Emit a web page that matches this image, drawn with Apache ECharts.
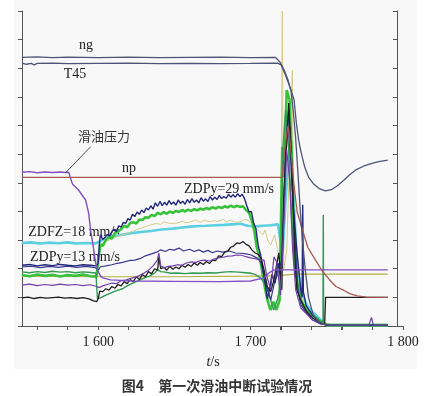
<!DOCTYPE html>
<html>
<head>
<meta charset="utf-8">
<script src="https://cdn.jsdelivr.net/npm/echarts@6/dist/echarts.min.js"></script>
<style>
  html, body { margin: 0; padding: 0; background: #fff; }
  #main { width: 428px; height: 396px; }
</style>
</head>
<body>
<div id="main"></div>
<script>
// tick positions on t axis
const xTicks = [1560, 1580, 1600, 1620, 1640, 1660, 1680, 1700, 1720, 1740, 1760, 1780, 1800];
const xLabels = [1600, 1700, 1800];

// [t, value] in plot units (11 divisions, no y labels)
const ngData = [[1550,9.38],[1560,9.4],[1570,9.37],[1580,9.39],[1590,9.38],[1600,9.37],[1620,9.39],[1640,9.37],[1660,9.38],[1680,9.39],[1700,9.37],[1716.4,9.38],[1719.5,9.2],[1722,8.94],[1724.5,8.6],[1726.5,8.2],[1728,7.5],[1729.5,6.6],[1731,5.4],[1732.5,4.1],[1734,3.0],[1736,1.9],[1738,1.0],[1741,0.4],[1745,0.12],[1750,0.05],[1790,0.05]];

const t45Data = [[1550,9.18],[1553,9.14],[1556,9.17],[1558,9.12],[1560,9.17],[1570,9.18],[1580,9.16],[1600,9.17],[1620,9.18],[1640,9.16],[1660,9.17],[1680,9.16],[1700,9.17],[1717.8,9.18],[1720,9.12],[1723,8.75],[1726.3,8.27],[1727.5,8.22],[1728.5,7.9],[1730,7.1],[1731.5,6.5],[1733,6.1],[1735.5,5.55],[1738,5.2],[1741,4.98],[1745,4.8],[1749,4.72],[1753,4.76],[1757,4.9],[1761,5.08],[1765,5.28],[1769,5.45],[1774,5.58],[1779,5.67],[1784,5.74],[1790,5.79]];

const npData = [[1550,5.19],[1600,5.19],[1650,5.19],[1700,5.19],[1720.5,5.19],[1722.5,6.2],[1724.5,7.0],[1726,6.4],[1728.3,5.0],[1730.5,4.0],[1733.5,3.45],[1737.5,2.75],[1742,2.35],[1747,1.92],[1752,1.6],[1756,1.38],[1761,1.25],[1765,1.13],[1770,1.05],[1776,1.01],[1790,1.0]];

const oilData = [[1550,5.37],[1555,5.39],[1560,5.35],[1565,5.38],[1570,5.36],[1575,5.38],[1579,5.36],[1580.7,5.37],[1581.8,5.17],[1583.2,4.95],[1587.1,4.75],[1591.7,4.4],[1593.7,3.95],[1595,3.35],[1596.7,2.8],[1598.3,2.2],[1600,1.9],[1601.5,1.75],[1603,1.68],[1608.1,1.61],[1623,1.57],[1650,1.56],[1680,1.55],[1700,1.57],[1708.8,1.68],[1712,1.85],[1715.3,1.96],[1730,1.96],[1750,1.96],[1790,1.96]];

const zdpyData = [[1550,2.12],[1555,2.15],[1560,2.1],[1565,2.14],[1570,2.11],[1575,2.15],[1580,2.12],[1585,2.1],[1590,2.14],[1595,2.12],[1599,2.1],[1600,2.2],[1600.8,2.9],[1601.5,3.18],[1603,3.02],[1604.5,3.1],[1606,3.2],[1607.5,3.14],[1609,3.3],[1610.5,3.38],[1612,3.3],[1613.5,3.5],[1615,3.45],[1616.5,3.62],[1618,3.58],[1619.5,3.75],[1621,3.7],[1622.5,3.9],[1624,3.82],[1625.5,3.98],[1627,3.9],[1628.5,4.05],[1630,3.96],[1631.5,4.12],[1633,4.05],[1634.5,4.2],[1636,4.08],[1637.5,4.3],[1639,4.18],[1640.5,4.35],[1642,4.2],[1643.5,4.32],[1645,4.22],[1646.5,4.38],[1648,4.25],[1649.5,4.33],[1651,4.22],[1652.5,4.4],[1654,4.28],[1655.5,4.36],[1657,4.25],[1658.5,4.42],[1660,4.3],[1661.5,4.45],[1663,4.32],[1664.5,4.4],[1666,4.3],[1667.5,4.48],[1669,4.36],[1670.5,4.44],[1672,4.35],[1673.5,4.52],[1675,4.4],[1676.5,4.5],[1678,4.42],[1679.5,4.56],[1681,4.45],[1682.5,4.52],[1684,4.46],[1685.5,4.6],[1687,4.5],[1688.5,4.58],[1690,4.5],[1691.5,4.62],[1693,4.52],[1694.5,4.6],[1696,4.45],[1697.5,4.2],[1699,3.98],[1700.5,4.0],[1702,3.6],[1703.5,3.4],[1705,2.8],[1706.5,2.5],[1708,2.0],[1709.5,1.5],[1711,0.95],[1712.5,1.3],[1714,1.8],[1716,1.5],[1718,2.2],[1720,1.6],[1721.5,3.5],[1723,6.0],[1724.9,7.5],[1726.5,6.2],[1728,4.2],[1730.3,2.65],[1732.9,1.26],[1733.8,1.0],[1734.2,4.23],[1734.6,1.2],[1736.5,0.7],[1740.7,0.38],[1744.6,0.14],[1749.3,0.03],[1790,0.03]];

const navy2Data = [[1550,2.06],[1556,2.09],[1562,2.04],[1568,2.08],[1574,2.05],[1580,2.09],[1586,2.05],[1592,2.08],[1598,2.04],[1600,1.95],[1601.5,2.07],[1605,2.1],[1609,2.14],[1612.5,2.19],[1616,2.22],[1620,2.28],[1624,2.3],[1627.8,2.36],[1631,2.45],[1635,2.52],[1638.8,2.59],[1641,2.66],[1644,2.6],[1647,2.68],[1649.7,2.65],[1653,2.72],[1656,2.62],[1660,2.68],[1663,2.6],[1666,2.66],[1669,2.58],[1672,2.64],[1675,2.56],[1678,2.62],[1682,2.58],[1686,2.62],[1690,2.55],[1693.5,2.54],[1697,2.52],[1700.5,2.48],[1704.4,2.37],[1706.6,2.23],[1708.8,1.78],[1711,1.26],[1713.2,0.91],[1715.3,1.43],[1718.5,1.96],[1720.5,2.3],[1722.4,5.45],[1724.3,7.19],[1726.3,5.8],[1728.9,3.35],[1731,1.26],[1733,0.73],[1736,0.5],[1740.7,0.21],[1746,0.07],[1752.5,0.03],[1790,0.03]];

const greenData = [[1550,1.78],[1555,1.74],[1560,1.8],[1565,1.75],[1570,1.79],[1575,1.73],[1580,1.78],[1585,1.75],[1590,1.8],[1595,1.74],[1599,1.72],[1600,2.3],[1601.5,2.85],[1603,2.8],[1605,3.0],[1607,3.1],[1609,3.05],[1611,3.25],[1613,3.3],[1615,3.38],[1617,3.5],[1619,3.45],[1621,3.6],[1623,3.62],[1625,3.58],[1627,3.72],[1629,3.7],[1631,3.8],[1633,3.78],[1635,3.88],[1637,3.84],[1639,3.95],[1641,3.9],[1643,3.98],[1645,3.92],[1647,4.0],[1649,3.95],[1651,4.02],[1653,3.98],[1655,4.05],[1657,4.0],[1659,4.06],[1661,4.02],[1663,4.08],[1665,4.04],[1667,4.1],[1669,4.06],[1671,4.12],[1673,4.08],[1675,4.15],[1677,4.1],[1679,4.16],[1681,4.12],[1683,4.18],[1685,4.14],[1687,4.2],[1689,4.15],[1691,4.2],[1693,4.16],[1695,4.18],[1697,4.05],[1699,3.95],[1701,3.65],[1702.5,3.3],[1704,2.75],[1705.5,2.5],[1707,2.1],[1708.8,1.5],[1711,0.91],[1713,0.56],[1715,0.85],[1717,0.56],[1719,0.9],[1720.8,6.25],[1722,5.2],[1723.7,8.24],[1725.6,7.89],[1726.9,6.15],[1728.3,3.35],[1730.3,1.61],[1732.9,0.91],[1736.8,0.56],[1740.7,0.38],[1744.6,0.21],[1748.6,0.07],[1752.5,0.03],[1790,0.03]];

const green2Data = [[1550,1.89],[1555,1.86],[1560,1.9],[1565,1.87],[1570,1.91],[1575,1.88],[1580,1.9],[1585,1.86],[1590,1.89],[1595,1.87],[1598.5,1.85],[1599.5,0.95],[1601.5,0.98],[1604,1.05],[1607,1.12],[1610,1.19],[1613,1.25],[1616,1.3],[1619,1.4],[1622,1.48],[1625,1.55],[1628,1.62],[1631,1.7],[1634,1.75],[1637,1.85],[1639,1.96],[1641,1.9],[1643,1.89],[1647.5,1.84],[1652,1.85],[1657,1.83],[1662,1.85],[1667,1.84],[1672,1.86],[1677,1.85],[1682,1.88],[1687,1.9],[1692,1.88],[1697,1.86],[1700.5,1.84],[1703,1.8],[1706.6,1.67],[1711,1.37],[1713.2,0.91],[1715.1,0.56],[1717.5,0.91],[1719.7,1.43],[1721.1,6.15],[1723,7.54],[1725,6.15],[1727,3.7],[1728.9,1.96],[1731.5,1.26],[1734.2,0.7],[1739.4,0.38],[1743.4,0.28],[1746,0.14],[1747.5,0.18],[1747.7,3.88],[1747.9,0.14],[1749.9,0.03],[1790,0.03]];

const cyanData = [[1550,2.9],[1556,2.92],[1562,2.88],[1568,2.91],[1574,2.89],[1580,2.92],[1586,2.88],[1592,2.9],[1598,2.88],[1601,2.95],[1604.5,3.05],[1608.1,3.12],[1613,3.16],[1617,3.2],[1621.3,3.24],[1626,3.27],[1631,3.3],[1635,3.32],[1638.8,3.35],[1644,3.38],[1649,3.4],[1655,3.44],[1660.6,3.47],[1666,3.49],[1671,3.5],[1677,3.52],[1682.5,3.53],[1688,3.55],[1693.5,3.57],[1698,3.5],[1703,3.48],[1708,3.5],[1713,3.52],[1718,3.55],[1719.5,3.0],[1721,2.5],[1723,4.5],[1726.3,6.61],[1728.3,4.4],[1730.3,2.3],[1732.9,1.26],[1736.8,0.73],[1740.7,0.49],[1746,0.21],[1749.9,0.03],[1790,0.03]];

const tanData = [[1550,1.76],[1570,1.75],[1598,1.76],[1600,2.2],[1601.5,2.83],[1605,2.95],[1610,3.07],[1614,3.15],[1618,3.22],[1621.3,3.28],[1626,3.38],[1630,3.45],[1634.4,3.53],[1638,3.58],[1641,3.55],[1643.1,3.64],[1647,3.58],[1651.9,3.59],[1655,3.66],[1658,3.6],[1660.6,3.64],[1664,3.7],[1667,3.62],[1669.4,3.7],[1673,3.64],[1676,3.68],[1678.2,3.64],[1682,3.72],[1684,3.64],[1686.9,3.7],[1690,3.62],[1693.5,3.64],[1696,3.72],[1698.3,3.7],[1701,3.55],[1704.9,3.35],[1707.9,3.18],[1709.5,3.35],[1711.2,3.0],[1713.2,2.83],[1715.8,3.18],[1717.8,2.65],[1719.7,1.96],[1720.8,11],[1721.7,1.96],[1723.7,2.65],[1727.4,8.94],[1728.3,3.0],[1731.5,1.26],[1736.1,0.56],[1742.7,0.21],[1749.3,0.03],[1790,0.03]];

const oliveData = [[1550,1.74],[1600,1.72],[1650,1.72],[1700,1.74],[1718,1.76],[1730,1.81],[1790,1.81]];

const blackData = [[1550,0.98],[1554,1.01],[1558,0.96],[1562,1.0],[1566,0.97],[1570,0.99],[1574,1.01],[1578,0.97],[1582,0.99],[1586,0.96],[1590,0.99],[1594,0.95],[1597,0.88],[1599,0.85],[1600,0.95],[1601,1.22],[1603,1.2],[1605,1.3],[1607,1.25],[1609,1.38],[1611,1.32],[1613,1.45],[1615,1.4],[1617,1.55],[1619,1.48],[1621,1.62],[1623,1.55],[1625,1.72],[1627,1.62],[1629,1.8],[1631,1.72],[1633,1.9],[1635,1.82],[1637,2.0],[1639,1.95],[1639.8,2.42],[1641,2.0],[1643,2.05],[1645,1.95],[1647,2.08],[1649,1.98],[1651,2.06],[1653,2.0],[1655,2.12],[1657,2.05],[1659,2.15],[1661,2.08],[1663,2.2],[1665,2.12],[1667,2.22],[1669,2.15],[1671,2.25],[1673,2.18],[1675,2.3],[1677,2.28],[1679,2.45],[1681,2.42],[1683,2.58],[1685,2.62],[1687,2.75],[1689,2.8],[1691,2.9],[1693,2.88],[1695,2.95],[1697,2.85],[1699,2.8],[1701,2.65],[1703,2.55],[1705,2.5],[1707,2.35],[1708.8,1.96],[1711,1.37],[1713.2,1.2],[1715.3,1.61],[1718.5,2.55],[1720.5,1.26],[1721.7,4.4],[1725,7.79],[1726.9,5.8],[1728.9,2.65],[1730.3,1.26],[1732.9,0.91],[1736.8,0.49],[1740.7,0.28],[1744.6,0.14],[1746.6,0.07],[1748.6,0.07],[1749.2,1.0],[1790,1.0]];

const purple2Data = [[1550,1.43],[1555,1.46],[1560,1.41],[1565,1.45],[1570,1.42],[1575,1.46],[1580,1.43],[1585,1.45],[1590,1.41],[1595,1.44],[1599,1.38],[1600.5,1.34],[1603,1.4],[1606,1.45],[1609,1.5],[1612,1.48],[1615,1.58],[1618,1.6],[1621,1.66],[1624,1.7],[1627,1.76],[1630,1.85],[1633,1.95],[1636,2.1],[1638.8,2.3],[1639.8,2.55],[1641,2.1],[1643,2.03],[1646,2.08],[1649,2.1],[1652,2.14],[1655,2.12],[1658,2.2],[1661,2.24],[1664,2.22],[1667,2.28],[1670,2.3],[1673,2.27],[1676,2.34],[1679,2.38],[1682,2.4],[1685,2.44],[1688,2.45],[1691,2.48],[1694,2.47],[1697,2.42],[1700,2.38],[1703,2.35],[1706,2.32],[1708.8,2.3],[1710.5,1.78],[1713.2,1.26],[1715.3,2.42],[1717.1,2.23],[1719.7,1.08],[1721.1,2.65],[1723.7,6.15],[1725.6,5.1],[1727.6,2.65],[1729.6,1.26],[1732.9,0.63],[1736.8,0.42],[1740.7,0.21],[1746,0.07],[1752.5,0.03],[1777.6,0.03],[1779.3,0.3],[1780.5,0.03],[1790,0.03]];

// leader line for the oil pressure label
const oilLeader = [[1578.6, 5.35], [1595, 6.26]];

const serif = "'Liberation Serif', 'DejaVu Serif', serif";
const cjk = "'Noto Sans CJK SC', sans-serif";

function fmtT(v) {
  const s = String(v);
  return s.length === 4 ? s[0] + " " + s.slice(1) : s;
}

function line(name, data, color, width, extra) {
  return Object.assign({
    name: name,
    type: "line",
    data: data,
    xAxisIndex: 0,
    yAxisIndex: 0,
    showSymbol: false,
    symbol: "none",
    lineStyle: { color: color, width: width },
    silent: true,
  }, extra || {});
}

const chart = echarts.init(document.getElementById("main"));
const axisColor = "#555";

chart.setOption({
  animation: false,
  backgroundColor: "#fff",
  grid: [
    { left: 22, right: 25, top: 11, bottom: 70 },
    { left: 22, right: 31, top: 11, bottom: 70 },
  ],
  xAxis: [
    {
      gridIndex: 0, type: "value", min: 1550, max: 1800, position: "bottom",
      axisLine: { lineStyle: { color: axisColor, width: 1 } },
      axisTick: { show: true, length: 4, customValues: xTicks, lineStyle: { color: axisColor } },
      axisLabel: {
        customValues: xLabels, formatter: fmtT, margin: 9,
        fontFamily: serif, fontSize: 14, color: "#222",
      },
      splitLine: { show: false },
    },
    {
      gridIndex: 1, type: "value", min: 1550, max: 1796.5, position: "top",
      axisLine: { lineStyle: { color: axisColor, width: 1 } },
      axisTick: { show: true, inside: true, length: 4, customValues: xTicks.slice(0, 12), lineStyle: { color: axisColor } },
      axisLabel: { show: false },
      splitLine: { show: false },
    },
  ],
  yAxis: [
    {
      gridIndex: 0, type: "value", min: 0, max: 11, interval: 1, position: "left",
      axisLine: { show: true, lineStyle: { color: axisColor, width: 1 } },
      axisTick: { show: true, length: 4, lineStyle: { color: axisColor } },
      axisLabel: { show: false },
      splitLine: { show: false },
    },
    {
      gridIndex: 1, type: "value", min: 0, max: 11, interval: 1, position: "right",
      axisLine: { show: true, lineStyle: { color: axisColor, width: 1 } },
      axisTick: { show: true, inside: true, length: 4, lineStyle: { color: axisColor } },
      axisLabel: { show: false },
      splitLine: { show: false },
    },
  ],
  graphic: [
    { type: "rect", z: -10, shape: { x: 14, y: 0, width: 403, height: 369 }, style: { fill: "#f8f8f8" } },
    { type: "text", x: 86, y: 45, style: { text: "ng", fontFamily: serif, fontSize: 14, fill: "#222", align: "center", verticalAlign: "middle" } },
    { type: "text", x: 75, y: 74, style: { text: "T45", fontFamily: serif, fontSize: 14, fill: "#222", align: "center", verticalAlign: "middle" } },
    { type: "text", x: 104, y: 136, style: { text: "滑油压力", fontFamily: cjk, fontSize: 13, fill: "#333", align: "center", verticalAlign: "middle" } },
    { type: "text", x: 129, y: 168, style: { text: "np", fontFamily: serif, fontSize: 14, fill: "#222", align: "center", verticalAlign: "middle" } },
    { type: "text", x: 229, y: 189, style: { text: "ZDPy=29 mm/s", fontFamily: serif, fontSize: 14, fill: "#222", align: "center", verticalAlign: "middle" } },
    { type: "text", x: 74, y: 232, style: { text: "ZDFZ=18 mm/s", fontFamily: serif, fontSize: 14, fill: "#222", align: "center", verticalAlign: "middle" } },
    { type: "text", x: 75, y: 257, style: { text: "ZDPy=13 mm/s", fontFamily: serif, fontSize: 14, fill: "#222", align: "center", verticalAlign: "middle" } },
    {
      type: "text", x: 213, y: 362,
      style: {
        text: "{i|t}/s", fontFamily: serif, fontSize: 14, fill: "#222", align: "center", verticalAlign: "middle",
        rich: { i: { fontStyle: "italic", fontFamily: serif, fontSize: 14, fill: "#222" } },
      },
    },
    { type: "text", x: 217, y: 386, style: { text: "图4　第一次滑油中断试验情况", fontFamily: cjk, fontSize: 14, fontWeight: "bold", fill: "#333", align: "center", verticalAlign: "middle" } },
  ],
  series: [
    line("cyan", cyanData, "#5ccfe0", 2.6),
    line("tan", tanData, "#d3cc86", 1),
    line("olive", oliveData, "#b5b04a", 1.2),
    line("green", greenData, "#38c23a", 2.6),
    line("green2", green2Data, "#2f9a52", 1.4),
    line("navy2", navy2Data, "#38388e", 1.2),
    line("ZDPy", zdpyData, "#24287c", 1.4),
    line("black", blackData, "#1e1e1e", 1.3),
    line("purple2", purple2Data, "#7240aa", 1.2),
    line("滑油压力", oilData, "#8350c2", 1.4, {
      markLine: {
        silent: true, symbol: "none", label: { show: false },
        lineStyle: { color: "#222", width: 0.8, type: "solid" },
        data: [[{ coord: oilLeader[0] }, { coord: oilLeader[1] }]],
      },
    }),
    line("np", npData, "#a55a52", 1.3),
    line("ng", ngData, "#4d5577", 1.3),
    line("T45", t45Data, "#4d5577", 1.3),
  ],
});
</script>
</body>
</html>
